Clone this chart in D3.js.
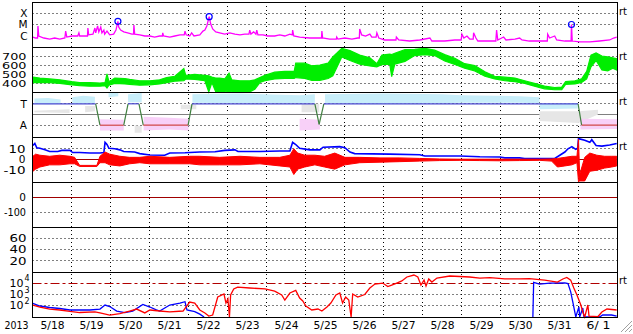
<!DOCTYPE html>
<html><head><meta charset="utf-8">
<script src="https://cdn.jsdelivr.net/npm/d3@7"></script>
<style>
html,body{margin:0;padding:0;background:#fff;}
svg{display:block;}
text{font-family:"DejaVu Sans",sans-serif;}
</style></head><body>
<svg id="c" width="633" height="334"></svg>
<script>
// ---------- DATA (time = days since 2013-05-18 00:00 UT) ----------
const dayLabels = ["5/18","5/19","5/20","5/21","5/22","5/23","5/24","5/25","5/26","5/27","5/28","5/29","5/30","5/31","6/ 1"];
const yearLabel = "2013";

// GOES X-ray flux (W/m2)
const xray = [[0.01,7.7e-7],[0.08,6.3e-7],[0.13,6.3e-7],[0.14,7.4e-6],[0.16,9.5e-7],[0.29,6.3e-7],[0.44,5.1e-7],[0.57,6.3e-7],[0.70,5.1e-7],[0.83,6.3e-7],[0.85,2.6e-6],[0.88,7.7e-7],[1.01,9.5e-7],[1.16,9.5e-7],[1.19,1.8e-6],[1.21,9.5e-7],[1.34,9.5e-7],[1.41,9.5e-7],[1.42,4.9e-6],[1.44,1.2e-6],[1.55,1.4e-6],[1.60,4.9e-6],[1.62,1.8e-6],[1.67,7.4e-6],[1.70,2.2e-6],[1.75,6.0e-6],[1.78,1.8e-6],[1.83,3.2e-6],[1.85,1.4e-6],[1.91,2.6e-6],[1.98,1.2e-6],[2.08,1.4e-6],[2.14,3.2e-6],[2.19,1.9e-5],[2.21,6.0e-6],[2.26,3.2e-6],[2.34,2.2e-6],[2.44,1.8e-6],[2.55,1.4e-6],[2.59,1.4e-6],[2.60,9.0e-6],[2.62,1.4e-6],[2.75,1.2e-6],[2.88,9.5e-7],[3.01,9.5e-7],[3.13,7.7e-7],[3.26,9.5e-7],[3.33,9.5e-7],[3.34,1.8e-6],[3.36,9.5e-7],[3.52,7.7e-7],[3.65,9.5e-7],[3.78,1.2e-6],[3.89,1.2e-6],[3.91,2.6e-6],[3.94,1.2e-6],[4.03,9.5e-7],[4.08,1.8e-6],[4.14,9.5e-7],[4.29,1.2e-6],[4.37,2.6e-6],[4.42,3.2e-6],[4.47,7.4e-6],[4.53,5.0e-5],[4.57,1.1e-5],[4.62,4.0e-6],[4.70,2.2e-6],[4.80,1.8e-6],[4.93,1.4e-6],[5.06,1.8e-6],[5.19,1.4e-6],[5.32,1.2e-6],[5.44,1.4e-6],[5.55,1.4e-6],[5.57,3.2e-6],[5.60,1.4e-6],[5.67,2.2e-6],[5.73,1.4e-6],[5.75,3.2e-6],[5.78,1.2e-6],[5.91,1.2e-6],[6.03,9.5e-7],[6.21,9.5e-7],[6.34,1.2e-6],[6.47,9.5e-7],[6.60,1.4e-6],[6.66,1.2e-6],[6.67,3.2e-6],[6.70,9.5e-7],[6.85,7.7e-7],[7.11,6.3e-7],[7.32,6.3e-7],[7.41,6.3e-7],[7.42,2.6e-6],[7.44,6.3e-7],[7.62,5.1e-7],[7.79,5.1e-7],[7.80,7.7e-7],[7.83,5.1e-7],[8.01,6.3e-7],[8.19,5.1e-7],[8.34,6.3e-7],[8.38,6.3e-7],[8.39,4.0e-6],[8.44,1.2e-6],[8.54,9.5e-7],[8.65,1.4e-6],[8.70,7.7e-7],[8.81,7.7e-7],[8.83,1.8e-6],[8.88,6.3e-7],[9.03,4.2e-7],[9.16,4.2e-7],[9.32,4.2e-7],[9.33,7.7e-7],[9.39,4.2e-7],[9.67,3.4e-7],[9.93,4.2e-7],[10.19,6.3e-7],[10.24,3.4e-7],[10.57,3.4e-7],[10.83,4.2e-7],[10.99,4.2e-7],[11.01,1.4e-6],[11.06,6.3e-7],[11.14,9.5e-7],[11.21,5.1e-7],[11.30,5.1e-7],[11.31,1.8e-6],[11.37,6.3e-7],[11.42,3.4e-7],[11.73,3.4e-7],[11.88,3.4e-7],[11.90,3.2e-6],[11.93,4.2e-7],[12.08,7.7e-7],[12.14,4.2e-7],[12.37,5.1e-7],[12.49,6.3e-7],[12.55,4.2e-7],[12.74,3.4e-7],[13.13,3.4e-7],[13.20,3.4e-7],[13.21,1.4e-6],[13.26,6.3e-7],[13.39,9.5e-7],[13.44,4.2e-7],[13.65,3.4e-7],[13.81,3.4e-7],[13.82,1.0e-5],[13.84,3.4e-7],[14.03,2.8e-7],[14.29,2.8e-7],[14.54,3.4e-7],[14.80,4.2e-7],[14.90,6.3e-7],[14.98,7.7e-7]];
const flares = [[2.19,1.9e-5],[4.53,5.0e-5],[13.82,1.0e-5]];
const xrayClasses = [["X",1e-4],["M",1e-5],["C",1e-6]];

// Solar wind speed (km/s): [t, low, high]
const speed = [[0.01,405,465],[0.19,405,455],[0.44,405,445],[0.70,395,435],[1.01,380,415],[1.21,370,405],[1.47,365,405],[1.73,365,400],[1.86,370,405],[1.91,345,500],[1.96,375,415],[2.11,395,455],[2.37,390,450],[2.49,385,440],[2.75,375,425],[3.01,380,425],[3.26,390,435],[3.44,405,460],[3.65,420,475],[3.88,425,560],[3.93,445,485],[4.16,440,495],[4.42,425,485],[4.52,300,480],[4.60,405,465],[4.70,300,455],[4.80,300,455],[4.93,300,445],[5.04,310,510],[5.11,300,435],[5.32,300,425],[5.57,300,425],[5.70,330,435],[5.83,405,460],[5.96,425,485],[6.21,445,520],[6.47,450,530],[6.71,450,530],[6.75,460,620],[6.98,450,620],[7.16,430,590],[7.37,430,600],[7.58,450,620],[7.70,480,690],[7.80,570,730],[7.93,690,785],[8.14,650,760],[8.39,610,710],[8.65,590,680],[8.83,580,615],[8.96,605,710],[9.16,610,720],[9.21,470,715],[9.29,610,730],[9.55,640,770],[9.80,705,775],[10.06,715,785],[10.31,705,765],[10.57,645,715],[10.83,605,675],[11.08,565,615],[11.34,535,595],[11.60,475,525],[11.85,445,475],[12.11,425,465],[12.37,415,455],[12.62,395,425],[12.87,365,395],[13.13,335,365],[13.39,325,350],[13.57,325,355],[13.67,385,415],[13.91,390,425],[14.08,405,445],[14.21,445,530],[14.32,580,710],[14.45,650,735],[14.60,545,700],[14.75,535,690],[14.88,565,680],[14.98,545,670]];
const speedTicks = [400,500,600,700];

// IMF sector polarity: +1 = T (toward), -1 = A (away)
const sector = [[0,1],[1.62,1],[1.73,-1],[2.34,-1],[2.45,1],[2.73,1],[2.84,-1],[3.99,-1],[4.09,1],[7.24,1],[7.35,-0.93],[7.47,1],[13.99,1],[14.08,-1],[15,-1]];
const phiToward = [[0.05,1.0,1.5],[0.4,0.95,1.55],[0.72,1.0,1.4],null,[1.02,1.0,1.6],[1.3,1.0,1.75],[1.6,1.05,1.65],null,[1.95,1.6,2.05],[2.2,1.7,2.05],null,[2.45,1.15,1.9],[2.8,1.15,2.0],null,[4.1,1.1,1.9],[5.3,1.05,1.95],[6.85,1.05,1.8],[7.24,1.1,1.9],null,[7.5,1.05,1.9],[9.0,1.0,1.95],[10.5,1.05,1.9],[11.0,1.1,1.8],[12.5,1.1,1.7],[13.0,1.05,1.6],null,[13.0,0.5,1.0],[13.98,0.55,1.05]];
const phiAway = [[1.73,-1.5,-0.45],[2.34,-1.5,-0.5],null,[2.85,-1.5,-0.2],[3.5,-1.4,-0.3],[4.0,-1.5,-0.4],null,[6.85,-1.5,-0.4],[7.37,-1.4,-0.5],null,[14.05,-1.4,-0.4],[15,-1.35,-0.45]];
const phiOther = [[0.05,0.2,0.35],[0.95,0.15,0.5],null,[1.35,0.2,0.8],[1.6,0.3,0.8],null,[2.62,-1.7,-1.0],[2.8,-1.7,-1.1],null,[3.8,0.5,0.9],[4.2,0.5,0.9],null,[6.9,0.2,1.0],[7.35,0.2,1.0],null,[13.0,-0.6,0.3],[14.0,-0.8,0.3],[14.5,0.0,0.45]];

// IMF Bt (nT)
const bt = [[0.01,13],[0.06,15],[0.11,11],[0.19,10.5],[0.32,9],[0.44,7.5],[0.65,7.5],[0.75,8.5],[0.96,8.5],[1.03,6.5],[1.21,6.5],[1.47,6],[1.73,6],[1.83,6.5],[1.86,16],[1.91,14],[1.96,10.5],[2.11,10],[2.24,9],[2.34,7.5],[2.62,7],[2.75,5.5],[3.01,4.2],[3.39,4],[3.52,6],[3.91,6.3],[4.29,7],[4.68,7.3],[4.93,8.5],[5.19,9],[5.27,7.5],[5.83,7.5],[6.34,8],[6.60,8],[6.67,16],[6.75,14],[6.85,10.5],[7.11,9],[7.37,9],[7.45,11.5],[7.88,12],[8.01,11],[8.14,7],[8.26,5.5],[9.16,5],[9.93,4.5],[10.06,3.3],[10.96,3.3],[11.47,2.5],[11.98,2.3],[12.11,1.5],[12.49,1.5],[12.62,1],[13.39,1],[13.52,4],[13.65,7],[13.73,10],[13.83,12],[13.93,9.5],[13.98,10.5],[14.00,19.5],[14.16,18],[14.29,16],[14.34,18.5],[14.45,13],[14.60,12.5],[14.80,13.5],[14.98,15]];
const bz = [[0.01,-11,3],[0.08,-9,5],[0.19,-7,4],[0.44,-5,3],[0.70,-5,4],[0.96,-4,3],[1.08,-4,2],[1.21,-6.5,-5.5],[1.65,-6.5,-5.5],[1.73,-3,3],[1.86,-3,7],[1.98,-5,5],[2.24,-6,3],[2.49,-4,2],[2.75,-3,2],[3.01,-4,3],[3.52,-4,2],[4.03,-4,3],[4.29,-5,3],[4.80,-5,2],[5.32,-5,3],[5.83,-4,2],[6.34,-6,2],[6.60,-7,4],[6.70,-14,10],[6.80,-9,6],[6.98,-7,4],[7.24,-5,4],[7.49,-7,3],[7.75,-9,6],[8.01,-5,2],[8.39,-3,2],[8.91,-2.5,1.5],[9.42,-2,1.5],[9.93,-1.5,1],[10.44,-1,0.5],[10.96,-0.8,0.3],[11.47,-1,0.3],[11.98,-1.2,0.3],[12.49,-1,0.3],[13.00,-0.8,0.3],[13.31,-1.5,0.5],[13.46,-7,1],[13.65,-6,2],[13.83,-5,3],[13.96,-3,3],[14.00,-21,19],[14.03,-20,-14],[14.16,-20,2],[14.29,-11,6],[14.47,-10,4],[14.67,-8,3],[14.85,-7,3],[14.98,-6,3]];
const bTicks = [10,0,-10];

const dstTicks = [0,-100];
const p6Ticks = [60,40,20];

// Particle flux
const fluxRed = [[0.01,116],[0.19,77],[0.44,51],[0.70,42],[0.96,31],[1.21,25],[1.60,28],[1.73,23],[1.98,15],[2.24,20],[2.49,34],[2.67,51],[2.88,23],[3.01,42],[3.26,34],[3.52,28],[3.86,34],[4.03,215],[4.16,175],[4.29,42],[4.42,23],[4.52,12],[4.62,15],[4.75,600],[4.91,1100],[4.96,175],[5.01,400],[5.05,10],[5.08,900],[5.16,3100],[5.26,4600],[5.57,3800],[5.96,3100],[6.21,2000],[6.39,900],[6.47,320],[6.60,1360],[6.75,2300],[6.85,490],[6.93,264],[7.01,95],[7.16,42],[7.32,51],[7.42,34],[7.55,77],[7.65,175],[7.78,900],[7.88,1360],[7.95,175],[8.03,600],[8.11,320],[8.17,10],[8.21,1100],[8.34,600],[8.52,1000],[8.65,3800],[8.78,8500],[8.98,1.04e4],[9.11,5000],[9.21,6900],[9.34,1.04e4],[9.47,1.6e4],[9.60,3.6e4],[9.78,5.4e4],[9.88,3.6e4],[9.96,6900],[10.04,1.9e4],[10.09,5600],[10.16,2.4e4],[10.24,1.28e4],[10.37,2.9e4],[10.70,4.4e4],[11.21,3.6e4],[11.47,2.9e4],[11.73,3.1e4],[12.11,2.4e4],[12.49,2.4e4],[12.74,2.6e4],[13.13,1.9e4],[13.46,1.28e4],[13.60,2.4e4],[13.70,3.3e4],[13.80,1.9e4],[13.88,3800],[13.96,900],[14.01,320],[14.06,116],[14.11,28],[14.16,10],[14.24,116],[14.27,12],[14.50,11],[14.60,28],[14.73,51],[14.98,42]];
const fluxBlue = [[0.01,160],[0.19,95],[0.44,70],[0.70,57],[0.96,42],[1.47,42],[1.73,51],[1.86,116],[1.98,85],[2.16,34],[2.37,25],[2.57,34],[2.83,130],[3.01,77],[3.16,46],[3.26,34],[3.52,116],[3.78,175],[3.91,230],[3.96,42],[4.16,30],[4.29,18],[4.40,10],null,[12.83,10],[12.85,1.2e4],[13.00,8500],[13.26,1.04e4],[13.65,1.1e4],[13.73,9500],[13.80,1700],[13.86,175],[13.91,23],[13.93,10],[14.01,80],[14.03,10],[14.11,63],[14.14,10],[14.54,10],[14.62,15],[14.85,15],[14.98,12]];
const fluxTicks = [1e4,1e3,1e2];
const fluxThreshold = 1e4;

// ---------- LAYOUT ----------
const svg = d3.select("#c");
const X0 = 32.5, X1 = 617.5;
const tops = [2,47,92,137,182,227,272], PH = 45, BOT = 317;
const x = d3.scaleLinear().domain([0,15]).range([X0,X1]);
const yX  = d3.scaleLog().domain([1e-7,1e-3]).range([47,2]);
const yV  = d3.scaleLinear().domain([300,800]).range([92,47]);
const yS  = d3.scaleLinear().domain([-2.1,2.1]).range([137,92]);
const yB  = d3.scaleLinear().domain([-21,21]).range([182,137]);
const yD  = d3.scaleLinear().domain([-200,100]).range([227,182]);
const y6  = d3.scaleLinear().domain([0,80]).range([272,227]);
const yP  = d3.scaleLog().domain([10,1e5]).range([317,272]).clamp(true);
const px = v => Math.floor(v)+0.5;

const gGrid = svg.append("g"), gData = svg.append("g"), gFrame = svg.append("g"), gText = svg.append("g");

function hDot(y){ gGrid.append("line").attr("x1",X0).attr("x2",X1).attr("y1",px(y)).attr("y2",px(y)).attr("stroke","#000").attr("stroke-dasharray","1,3"); }
function hLine(y,col,dash){ const l=gGrid.append("line").attr("x1",X0).attr("x2",X1).attr("y1",px(y)).attr("y2",px(y)).attr("stroke",col).attr("stroke-width",1); if(dash) l.attr("stroke-dasharray",dash); }

for(let k=1;k<15;k++){ gGrid.append("line").attr("x1",px(x(k))).attr("x2",px(x(k))).attr("y1",2).attr("y2",BOT).attr("stroke","#000").attr("stroke-dasharray","1,3"); }
xrayClasses.slice(0,2).forEach(d=>hDot(yX(d[1])));
speedTicks.forEach(v=>hDot(yV(v)));
hDot(yS(1)); hDot(yS(-1));
hLine(yS(0),"#808080");
bTicks.filter(v=>v!==0).forEach(v=>hDot(yB(v)));
hLine(yB(0),"#a00000");
hLine(yD(0),"#a00000");
hDot(yD(-100));
p6Ticks.forEach(v=>hDot(y6(v)));
hDot(yP(1e3)); hDot(yP(1e2));
hLine(yP(fluxThreshold),"#b00000","9,3,3,3");

// ---------- DATA MARKS ----------
const band = (ys) => d3.area().defined(d=>d).x(d=>x(d[0])).y0(d=>ys(d[1])).y1(d=>ys(d[2]));
const line = (ys) => d3.line().defined(d=>d).x(d=>x(d[0])).y(d=>ys(d[1]));

gData.append("path").attr("d",line(yX)(xray)).attr("fill","none").attr("stroke","#ff00ff").attr("stroke-width",1.3);
gData.selectAll("circle.fl").data(flares).join("circle").attr("cx",d=>x(d[0])).attr("cy",d=>yX(d[1])).attr("r",3).attr("fill","none").attr("stroke","#0000ff").attr("stroke-width",1.2);

gData.append("path").attr("d",band(yV)(speed)).attr("fill","#00ee00").attr("stroke","#00ee00").attr("stroke-width",1.2);

gData.append("path").attr("d",band(yS)(phiOther)).attr("fill","#e6e6e6");
gData.append("path").attr("d",band(yS)(phiToward)).attr("fill","#c8eefa");
gData.append("path").attr("d",band(yS)(phiAway)).attr("fill","#f8d0f8");
for(let i=0;i<sector.length-1;i++){
  const a=sector[i], b=sector[i+1];
  let col = "#408040";
  if(a[1]===1 && b[1]===1) col="#4848d0";
  else if(a[1]===-1 && b[1]===-1) col="#d04848";
  gData.append("path").attr("d",line(yS)([a,b])).attr("fill","none").attr("stroke",col).attr("stroke-width",1.2);
}

gData.append("path").attr("d",line(yB)(bt)).attr("fill","none").attr("stroke","#0000ff").attr("stroke-width",1.6);
gData.append("path").attr("d",band(yB)(bz)).attr("fill","#ff0000").attr("stroke","#ff0000").attr("stroke-width",1);

gData.append("path").attr("d",line(yP)(fluxBlue)).attr("fill","none").attr("stroke","#0000ff").attr("stroke-width",1.3);
gData.append("path").attr("d",line(yP)(fluxRed)).attr("fill","none").attr("stroke","#ff0000").attr("stroke-width",1.3);

// ---------- FRAME ----------
tops.concat([BOT]).forEach(y=>gFrame.append("line").attr("x1",X0).attr("x2",X1).attr("y1",y+0.5).attr("y2",y+0.5).attr("stroke","#000"));
gFrame.append("line").attr("x1",X0).attr("x2",X0).attr("y1",2).attr("y2",BOT+1).attr("stroke","#000");
gFrame.append("line").attr("x1",X1).attr("x2",X1).attr("y1",2).attr("y2",BOT+1).attr("stroke","#000");

// ---------- TEXT ----------
const FS = 10.5;
function labelWidth(s){
  if(s.length===1) return null;
  if(/^\d\d\d$/.test(s)) return 24.5;
  if(s==="-10"||s==="-100") return 22;
  if(s.length===2) return 17;
  return null;
}
function leftAxis(scale, ticks, fmt, pad, fs){
  const g = gText.append("g").attr("transform",`translate(${X0},0)`)
    .call(d3.axisLeft(scale).tickValues(ticks).tickFormat(fmt).tickSize(0));
  g.select(".domain").remove();
  g.selectAll("line").remove();
  g.selectAll("text").attr("font-size",fs||FS).attr("fill","#000").each(function(){
    const t = d3.select(this), w = labelWidth(t.text());
    if(w){ t.attr("text-anchor","start").attr("x",-pad-w).attr("textLength",w).attr("lengthAdjust","spacingAndGlyphs"); }
    else { t.attr("x",-pad); }
  });
  return g;
}
const num = v => String(v);
leftAxis(yX, xrayClasses.map(d=>d[1]), (v)=>xrayClasses.find(d=>d[1]===v)[0], 5);
leftAxis(yV, speedTicks, num, 6, 9.5);
leftAxis(yS, [1,-1], v=>v>0?"T":"A", 5.5);
leftAxis(yB, bTicks, num, 7);
leftAxis(yD, dstTicks, num, 6.5);
leftAxis(y6, p6Ticks, num, 6);
fluxTicks.forEach(v=>{
  const yy = yP(v), e = Math.round(Math.log10(v));
  gText.append("text").attr("x",9.5).attr("y",yy+3.5).attr("font-size",FS).attr("textLength",14).attr("lengthAdjust","spacingAndGlyphs").text("10");
  gText.append("text").attr("x",24.5).attr("y",yy-2).attr("font-size",8).text(String(e));
});
const gx = gText.append("g").attr("transform",`translate(0,${BOT})`)
  .call(d3.axisBottom(x).tickValues(d3.range(15).map(k=>k+0.5)).tickFormat((d,i)=>dayLabels[i]).tickSize(0));
gx.select(".domain").remove();
gx.selectAll("text").attr("font-size",FS).attr("fill","#000").attr("y",4.5).style("white-space","pre")
  .attr("text-anchor","start").attr("x",-12).attr("textLength",24).attr("lengthAdjust","spacingAndGlyphs");
gText.append("text").attr("x",4.5).attr("y",329).attr("font-size",FS).attr("textLength",24).attr("lengthAdjust","spacingAndGlyphs").text(yearLabel);
[0,1,2,3].forEach(i=>gText.append("text").attr("x",619).attr("y",tops[i]+13).attr("font-size",10).text("rt"));
gText.append("text").attr("x",619).attr("y",tops[6]+12).attr("font-size",10).text("rt");

[[632,321,621,332],[632,325,625,332],[632,329,629,332]].forEach(p=>gFrame.append("line").attr("x1",p[0]).attr("y1",p[1]).attr("x2",p[2]).attr("y2",p[3]).attr("stroke","#a0a0a0"));
</script></body></html>
